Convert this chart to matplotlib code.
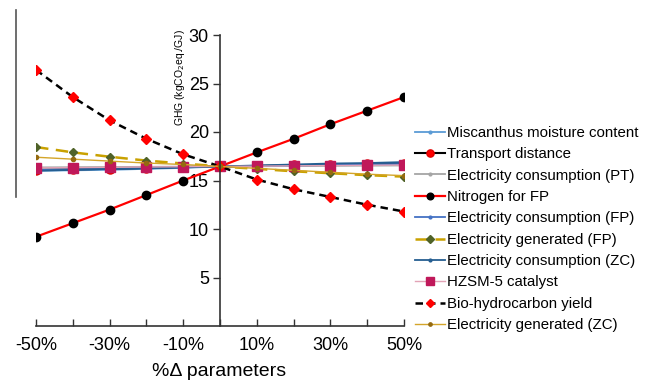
import matplotlib
matplotlib.use("Agg")
import matplotlib.pyplot as plt
from matplotlib.lines import Line2D

plt.rcParams['font.family'] = ['Liberation Sans', 'DejaVu Sans']

# ---- data ----
pct = [-50, -40, -30, -20, -10, 0, 10, 20, 30, 40, 50]
tick_labels = ['-50%', '', '-30%', '', '-10%', '', '10%', '', '30%', '', '50%']

miscanthus = [16.0, 16.05, 16.1, 16.2, 16.3, 16.45, 16.5, 16.55, 16.6, 16.65, 16.7]
transport = [16.1, 16.15, 16.2, 16.3, 16.4, 16.45, 16.5, 16.55, 16.6, 16.65, 16.7]
elec_pt = [16.35, 16.37, 16.39, 16.41, 16.43, 16.45, 16.47, 16.49, 16.51, 16.53, 16.55]
nitrogen = [9.2, 10.6, 12.0, 13.5, 15.0, 16.45, 17.9, 19.3, 20.8, 22.2, 23.6]
elec_fp = [16.1, 16.15, 16.2, 16.3, 16.4, 16.45, 16.5, 16.55, 16.6, 16.65, 16.7]
gen_fp = [18.45, 17.9, 17.45, 17.05, 16.75, 16.45, 16.2, 15.95, 15.75, 15.55, 15.4]
elec_zc = [16.0, 16.1, 16.2, 16.25, 16.35, 16.45, 16.55, 16.65, 16.75, 16.8, 16.9]
hzsm = [16.3, 16.33, 16.36, 16.39, 16.42, 16.45, 16.48, 16.51, 16.54, 16.57, 16.6]
bio = [26.4, 23.6, 21.2, 19.3, 17.7, 16.45, 15.1, 14.1, 13.3, 12.5, 11.8]
gen_zc = [17.4, 17.2, 17.0, 16.8, 16.65, 16.45, 16.25, 16.05, 15.85, 15.65, 15.5]

names = ['Miscanthus moisture content', 'Transport distance', 'Electricity consumption (PT)',
         'Nitrogen for FP', 'Electricity consumption (FP)', 'Electricity generated (FP)',
         'Electricity consumption (ZC)', 'HZSM-5 catalyst', 'Bio-hydrocarbon yield',
         'Electricity generated (ZC)']

fig = plt.figure(figsize=(6.53, 3.84), dpi=100)
ax = fig.add_axes([36/653, 58/384, 368/653, 291/384])

ax.plot(pct, miscanthus, color='#5B9BD5', lw=1.3, marker='o', ms=2.5, label=names[0])
ax.plot(pct, transport, color='black', lw=1.5, marker='o', ms=6.5, mfc='#FF0000', mec='#E00000', label=names[1])
ax.plot(pct, elec_pt, color='#A5A5A5', lw=1.3, marker='o', ms=2.5, label=names[2])
ax.plot(pct, nitrogen, color='#FF0000', lw=1.6, marker='o', ms=6, mfc='black', mec='black', label=names[3])
ax.plot(pct, elec_fp, color='#4472C4', lw=1.3, marker='o', ms=2.5, label=names[4])
ax.plot(pct, gen_fp, color='#C9A100', lw=1.8, ls=(0, (5, 3)), marker='D', ms=4.5,
        mfc='#4F6228', mec='#4F6228', label=names[5])
ax.plot(pct, elec_zc, color='#255E91', lw=1.3, marker='o', ms=2.5, label=names[6])
ax.plot(pct, hzsm, color='#E2A3B6', lw=1.0, marker='s', ms=7.5, mfc='#C0185A', mec='#C0185A', label=names[7])
ax.plot(pct, bio, color='black', lw=1.8, ls=(0, (3, 2)), marker='D', ms=5,
        mfc='#FF0000', mec='#FF0000', label=names[8])
ax.plot(pct, gen_zc, color='#D4A52A', lw=1.0, marker='o', ms=3, mfc='#946A10', mec='#946A10', label=names[9])

ax.set_xlim(-50, 50)
ax.set_ylim(0, 30)
for s in ['top', 'right']:
    ax.spines[s].set_visible(False)
ax.spines['left'].set_position(('data', 0))
ax.spines['left'].set_color('#333333')
ax.spines['bottom'].set_color('#333333')
ax.spines['left'].set_linewidth(1.2)
ax.spines['bottom'].set_linewidth(1.2)

ax.set_yticks([5, 10, 15, 20, 25, 30])
ax.tick_params(axis='y', direction='out', length=5, width=1.0, labelsize=13, pad=3, colors='#333333', labelcolor='black')
ax.set_xticks(pct)
ax.set_xticklabels(tick_labels)
ax.tick_params(axis='x', direction='in', length=5, width=1.0, labelsize=13, pad=8, colors='#333333', labelcolor='black')

fig.text(219/653, 1 - 372/384, '%Δ parameters', fontsize=14, ha='center', va='center')
fig.text(180/653, 1 - 78/384, 'GHG (kgCO$_2$eq./GJ)', fontsize=7.5, rotation=90, ha='center', va='center')

# stray vertical line at left edge
fig.add_artist(Line2D([16/653, 16/653], [1 - 10/384, 1 - 197/384], color='#555555', lw=1.2))

fig.legend(loc='upper left', bbox_to_anchor=(415/653, 1 - 126/384), frameon=False,
           fontsize=10.8, handlelength=2.0, handletextpad=0.15, labelspacing=0.49,
           borderpad=0, borderaxespad=0, markerscale=0.8)

fig.savefig('out.png', dpi=100)
